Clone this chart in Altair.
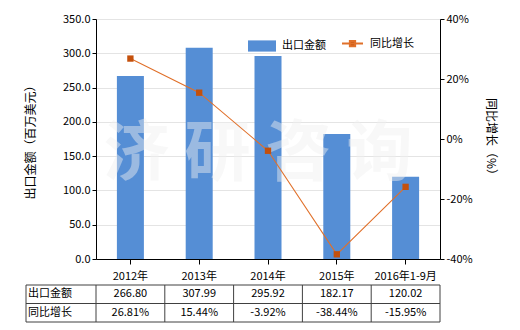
import altair as alt
import pandas as pd

categories = ["2012年", "2013年", "2014年", "2015年", "2016年1-9月"]
export_values = [266.80, 307.99, 295.92, 182.17, 120.02]
growth_values = [26.81, 15.44, -3.92, -38.44, -15.95]
left_ticks = [0, 50, 100, 150, 200, 250, 300, 350]
right_ticks = [-40, -20, 0, 20, 40]

FONT = "Noto Sans CJK SC"
BAR = "#558ed5"
LINE = "#e0702a"
MARK = "#c4500c"
BORDER = "#404040"

df = pd.DataFrame({
    "cat": categories,
    "export": export_values,
    "growth": growth_values,
    "export_label": [f"{v:.2f}" for v in export_values],
    "growth_label": [f"{v:.2f}%" for v in growth_values],
})

W, H = 344, 240

xscale = alt.Scale(domain=categories, paddingInner=0, paddingOuter=0)
xaxis = alt.Axis(title=None, labelAngle=0, labelFont=FONT, labelFontSize=11,
                 labelColor="#000", domainColor="#000", tickColor="#000",
                 tickSize=5, labelPadding=6, grid=False)
xenc = alt.X("cat:N", sort=categories, scale=xscale, axis=xaxis)

base = alt.Chart(df)

bars = base.mark_bar(width=27).transform_calculate(s="'出口金额'").encode(
    x=xenc,
    y=alt.Y("export:Q", scale=alt.Scale(domain=[0, 350], nice=False),
            axis=alt.Axis(values=left_ticks, format=".1f", title="出口金额（百万美元）",
                          titleFont=FONT, titleFontSize=12, titleFontWeight="normal",
                          titleAngle=-90, titleX=-66, titleY=H / 2, titleAlign="center",
                          titleBaseline="middle", titleColor="#000",
                          labelFont=FONT, labelFontSize=11, labelColor="#000",
                          domainColor="#000", tickColor="#000", tickSize=4,
                          grid=True, gridColor="#e4e4e4")),
    fill=alt.Fill("s:N", scale=alt.Scale(range=[BAR]),
                  legend=alt.Legend(title=None, orient="none", legendX=152, legendY=13,
                                    symbolType="M-1,-0.4H1V0.4H-1Z", symbolSize=784,
                                    symbolStrokeWidth=0, labelFont=FONT, labelFontSize=11,
                                    labelColor="#000", labelOffset=6, padding=0)),
)

watermark = alt.Chart(pd.DataFrame({"t": ["济 研 咨 询"]})).mark_text(
    font=FONT, fontSize=66, fontWeight="bold", color="#f0f0f0", opacity=0.45,
    align="center", baseline="middle"
).encode(x=alt.value(162), y=alt.value(136), text="t:N")

gy = alt.Y("growth:Q", scale=alt.Scale(domain=[-40, 40], nice=False),
           axis=alt.Axis(orient="right", values=right_ticks, labelExpr="datum.value + '%'",
                         title="同比增长（%）", titleFont=FONT, titleFontSize=12,
                         titleFontWeight="normal", titleAngle=90, titleX=50, titleY=H / 2,
                         titleAlign="center", titleBaseline="middle", titleColor="#000",
                         labelFont=FONT, labelFontSize=11, labelColor="#000",
                         domainColor="#000", tickColor="#000", tickSize=4, grid=False))

line = base.mark_line(strokeWidth=1.1).transform_calculate(s2="'同比增长'").encode(
    x=xenc, y=gy,
    stroke=alt.Stroke("s2:N", scale=alt.Scale(range=[LINE]),
                      legend=alt.Legend(title=None, orient="none", legendX=245, legendY=13,
                                        symbolType="M-1,0H1M-0.25,-0.25H0.25V0.25H-0.25Z",
                                        symbolSize=441, symbolStrokeWidth=2,
                                        symbolFillColor=MARK, labelFont=FONT,
                                        labelFontSize=11, labelColor="#000",
                                        labelOffset=6, padding=0)),
)
points = base.mark_point(shape="square", filled=True, size=40, color=MARK, opacity=1).encode(
    x=xenc, y=gy)

series = alt.layer(line, points)

# table
t1 = base.mark_text(font=FONT, fontSize=11, color="#000").encode(
    x=xenc, y=alt.value(275), text="export_label:N")
t2 = base.mark_text(font=FONT, fontSize=11, color="#000").encode(
    x=xenc, y=alt.value(294), text="growth_label:N")
rowlab = alt.Chart(pd.DataFrame({"r": ["出口金额", "同比增长"], "yy": [275, 294]})).mark_text(
    font=FONT, fontSize=11, color="#000", align="left").encode(
    x=alt.value(-68), y=alt.Y("yy:Q", scale=None), text="r:N")

table_layers = [t1, t2, rowlab]
for yy in [266, 284.5, 303]:
    table_layers.append(
        alt.Chart(pd.DataFrame({"a": [0]})).mark_rule(color=BORDER, strokeWidth=1).encode(
            x=alt.value(-70), x2=alt.value(W), y=alt.value(yy)))
for xx in [-70, W]:
    table_layers.append(
        alt.Chart(pd.DataFrame({"a": [0]})).mark_rule(color=BORDER, strokeWidth=1).encode(
            x=alt.value(xx), y=alt.value(266), y2=alt.value(303)))
dividers = base.mark_rule(color=BORDER, strokeWidth=1).encode(
    x=alt.X("cat:N", sort=categories, scale=xscale, axis=xaxis, bandPosition=0),
    y=alt.value(266), y2=alt.value(303))
table_layers.append(dividers)

chart = alt.layer(bars, watermark, series, *table_layers).resolve_scale(
    y="independent"
).properties(
    width=W, height=H, autosize="none",
    padding={"left": 96, "top": 19, "right": 80, "bottom": 71},
).configure_view(stroke=None).configure(background="white")

chart.save("out.html", embed_options={"renderer": "svg", "actions": False})
